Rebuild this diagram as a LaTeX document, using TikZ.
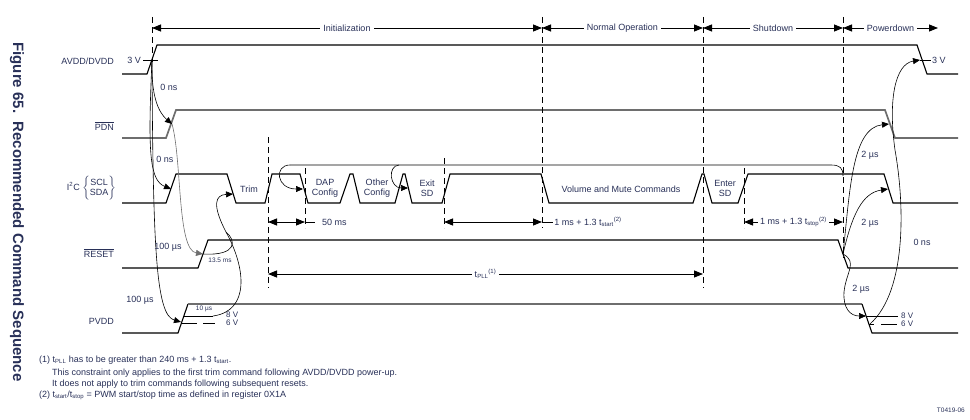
\documentclass[tikz,border=0pt]{standalone}
\usepackage{fontspec}
\setmainfont{Liberation Sans}
\usepackage{xcolor}
\usetikzlibrary{arrows.meta}
\definecolor{labelblue}{RGB}{40,48,88}
\definecolor{railgray}{RGB}{110,110,110}
\tikzset{
sig/.style={line width=1.1pt, line join=miter},
sig gray/.style={sig, draw=railgray, line width=1.7pt},
guide/.style={dash pattern=on 6pt off 4pt, line width=0.8pt},
span arrow/.style={line width=0.8pt,
  {Triangle[length=9pt,width=7pt]}-{Triangle[length=9pt,width=7pt]}},
dep/.style={line width=0.6pt, -{Triangle[length=7pt,width=6pt]}},
lbl/.style={text=labelblue, font=\fontsize{9}{10}\selectfont, inner sep=1pt},
cmd/.style={lbl, align=center},
tiny/.style={lbl, font=\fontsize{6.5}{7}\selectfont},
volt/.style={lbl, font=\fontsize{8}{8}\selectfont},
}

\begin{document}
\begin{tikzpicture}[x=1pt,y=-1pt]
\useasboundingbox (0,0) rectangle (970,420);
% the title
\node[text=labelblue, font=\fontsize{15}{15}\selectfont\bfseries, rotate=-90] (title) at (17,212)
  {Figure 65.\ \ Recommended Command Sequence};
% the signal names
\node[lbl, anchor=east] (avdd) at (115,61) {AVDD/DVDD};
\node[lbl, anchor=east] (pdn) at (115,126) {\(\overline{\mbox{PDN}}\)};
\node[lbl, anchor=east] (i2c) at (117,188)
  {I\textsuperscript{2}C \(\left\{\begin{tabular}{@{}c@{}}SCL\\SDA\end{tabular}\right\}\)};
\node[lbl, anchor=east] (reset) at (115,253) {\(\overline{\mbox{RESET}}\)};
\node[lbl, anchor=east] (pvdd) at (115,321) {PVDD};
% the waveforms
\draw[sig] (122,74) -- (147,74) -- (157,45) -- (917,45) -- (927,74) -- (958,74);
\draw[sig gray] (122,138) -- (166,138) -- (176,110) -- (885,110) -- (895,138) -- (958,138);
\draw[sig] (122,203) -- (166,203) -- (176,174) -- (227,174) -- (236,203) -- (265,203)
  -- (272,174) -- (300,174) -- (308,203) -- (340,203) -- (350,174) -- (353,174)
  -- (360,203) -- (395,203) -- (403,174) -- (405,174) -- (412,203) -- (442,203)
  -- (450,174) -- (541,174) -- (549,203) -- (693,203) -- (702,174) -- (704,174)
  -- (712,203) -- (738,203) -- (748,174) -- (884,174) -- (893,203) -- (958,203);
\draw[sig] (122,268) -- (198,268) -- (208,240) -- (838,240) -- (848,268) -- (958,268);
\draw[sig] (122,333) -- (178,333) -- (188,304);
\draw[sig gray] (188,304) -- (862,304);
\draw[sig] (862,304) -- (872,333) -- (958,333);
% the commands
\node[cmd] (trim) at (249,189) {Trim};
\node[cmd] (dap) at (325,188) {DAP\\Config};
\node[cmd] (other) at (377,188) {Other\\Config};
\node[cmd] (exit) at (427,188) {Exit\\SD};
\node[cmd] (vol) at (621,189) {Volume and Mute Commands};
\node[cmd] (enter) at (725,188) {Enter\\SD};
% the guides
\foreach \x/\ya/\yb in {152/17/62, 268/137/288, 305/168/228, 444/158/228,
  542/17/228, 703/17/288, 744/168/228, 843/17/258}
{
  \draw[guide] (\x,\ya) -- (\x,\yb);
}
% the phases
\foreach \a/\b/\txt in {152/542/Initialization, 542/703/Normal Operation,
  703/843/Shutdown, 843/938/Powerdown}
{
  \draw[span arrow] (\a,28) -- node[lbl, fill=white, inner sep=3pt] (phase-\a) {\txt} (\b,28);
}
% the timings
\draw[span arrow] (268,222) -- (305,222);
\draw[line width=0.8pt] (305,222) -- (315,222);
\node[lbl, anchor=west] (t50) at (321,222) {50 ms};
\draw[span arrow] (444,222) -- (542,222);
\draw[line width=0.8pt] (542,222) -- (553,222)
  node[lbl, anchor=west] (tstart) {1 ms + 1.3 t\textsubscript{start}\textsuperscript{(2)}};
\draw[span arrow] (744,222) -- node[lbl, fill=white, inner sep=2pt] (tstop)
  {1 ms + 1.3 t\textsubscript{stop}\textsuperscript{(2)}} (843,222);
\draw[span arrow] (268,274) -- node[lbl, fill=white, inner sep=3pt] (tpll)
  {t\textsubscript{PLL}\textsuperscript{(1)}} (703,274);
% the levels
\draw[line width=0.7pt] (143,60) -- (158,60);
\node[lbl, anchor=east] (v3l) at (142,60) {3 V};
\draw[line width=0.7pt] (920,60) -- (931,60);
\node[lbl, anchor=west] (v3r) at (931,60) {3 V};
\draw[line width=0.7pt] (184,316) -- (213,316);
\draw[line width=0.7pt, dash pattern=on 15pt off 6pt] (182,323) -- (215,323);
\node[volt, anchor=west] (v8l) at (225,315) {8 V};
\node[volt, anchor=west] (v6l) at (225,323) {6 V};
\draw[line width=0.7pt] (866,316) -- (898,316);
\draw[line width=0.7pt, dash pattern=on 5pt off 7pt on 16pt off 5pt] (869,324) -- (898,324);
\node[volt, anchor=west] (v8r) at (900,316) {8 V};
\node[volt, anchor=west] (v6r) at (900,324) {6 V};
% the start-up arrows
\coordinate (avdd3v) at (152,60);
\coordinate (pdnup) at (172,124);
\coordinate (i2cup) at (171,189);
\coordinate (resetup) at (203,254);
\coordinate (pvddup) at (181,322);
\coordinate (pvdd8v) at (213,316);
\coordinate (merge) at (226,232);
\coordinate (trimin) at (233,194);
\draw[dep] (avdd3v) .. controls (151,95) and (158,112) .. (pdnup);
\draw[dep] (avdd3v) .. controls (148,150) and (149,180) .. (i2cup);
\draw[dep] (avdd3v) .. controls (153,250) and (156,315) .. (pvddup);
\draw[dep, draw=railgray] (pdnup) .. controls (182,160) and (177,250) .. (resetup);
\draw[dep] (pvdd8v) .. controls (250,311) and (246,268) .. (merge)
  .. controls (212,205) and (215,195) .. (trimin);
\draw[line width=0.6pt] (resetup) .. controls (238,256) and (236,240) .. (merge);
\node[lbl] (d1) at (169,87) {0 ns};
\node[lbl] (d2) at (165,159) {0 ns};
\node[lbl] (d3) at (168,247) {100 µs};
\node[lbl] (d4) at (140,300) {100 µs};
\node[tiny] (d5) at (220,260) {13.5 ms};
\node[tiny] (d6) at (204,309) {10 µs};
% the loop back
\coordinate (loopend) at (843,176);
\coordinate (dapin) at (303,189);
\coordinate (exitin) at (408,188);
\draw[line width=0.6pt] (loopend) .. controls (843,168) and (840,165) .. (831,165) -- (290,165);
\draw[dep] (290,165) .. controls (274,165) and (276,189) .. (dapin);
\draw[dep] (399,165) .. controls (387,166) and (390,188) .. (exitin);
% the power-down arrows
\coordinate (resetdn) at (843,254);
\coordinate (pdndn) at (889,124);
\coordinate (i2cdn) at (888,189);
\coordinate (pvdddn) at (866,316);
\coordinate (pvdd6v) at (870,324);
\coordinate (avdddn) at (920,60);
\draw[dep] (resetdn) .. controls (850,190) and (852,128) .. (pdndn);
\draw[dep] (resetdn) .. controls (852,215) and (862,193) .. (i2cdn);
\draw[dep] (resetdn) .. controls (858,262) and (846,272) .. (844,292)
  .. controls (843,308) and (850,316) .. (pvdddn);
\draw[dep] (pvdd6v) .. controls (908,290) and (904,200) .. (895,150)
  .. controls (888,100) and (895,64) .. (avdddn);
\node[lbl] (d7) at (870,155) {2 µs};
\node[lbl] (d8) at (870,223) {2 µs};
\node[lbl] (d9) at (861,289) {2 µs};
\node[lbl] (d10) at (922,242) {0 ns};
% the notes
\node[lbl, anchor=base west] (fn1) at (38,362)
  {(1) t\textsubscript{PLL} has to be greater than 240 ms + 1.3 t\textsubscript{start}.};
\node[lbl, anchor=base west] (fn1b) at (51,375)
  {This constraint only applies to the first trim command following AVDD/DVDD power-up.};
\node[lbl, anchor=base west] (fn1c) at (51,386)
  {It does not apply to trim commands following subsequent resets.};
\node[lbl, anchor=base west] (fn2) at (38,397)
  {(2) t\textsubscript{start}/t\textsubscript{stop} = PWM start/stop time as defined in register 0X1A};
\node[tiny, anchor=east] (code) at (966,410) {T0419-06};
\end{tikzpicture}
\end{document}
